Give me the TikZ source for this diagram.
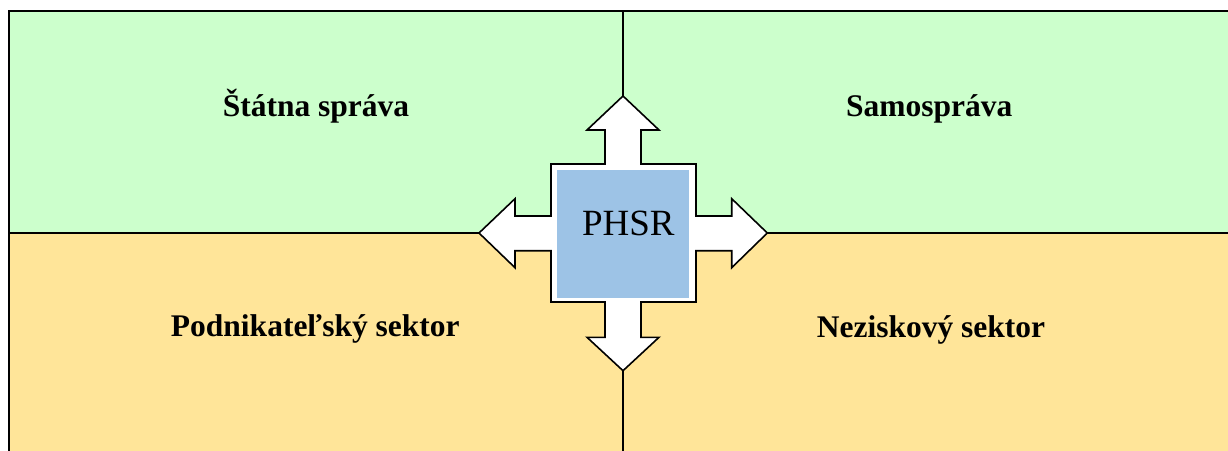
\documentclass[tikz,border=0pt]{standalone}
\usepackage{fontspec}
\setmainfont{Liberation Serif}
\definecolor{qgreen}{HTML}{CCFFCC}
\definecolor{qorange}{HTML}{FFE599}
\definecolor{qblue}{HTML}{9DC3E6}
\tikzset{
  quadlabel/.style={font=\fontsize{31.5}{36}\selectfont\bfseries, anchor=base, inner sep=0pt},
  frameline/.style={line width=2pt},
  crossline/.style={line width=1.6pt, fill=white, line join=miter},
}
\begin{document}
\begin{tikzpicture}[x=1pt,y=-1pt]
\useasboundingbox (0,0) rectangle (1228,450);
% quadrants
\fill[qgreen] (9,11) rectangle (1240,233);
\fill[qorange] (9,233) rectangle (1240,460);
\draw[frameline] (9,460) -- (9,11) -- (1240,11);
\draw[frameline] (623,11) -- (623,460);
\draw[frameline] (9,233) -- (1240,233);
% cross arrow
\draw[crossline] (623,96) -- (659,130) -- (641,130) -- (641,164) -- (696,164)
  -- (696,216) -- (731.7,216) -- (731.7,198.7) -- (767.3,233) -- (731.7,267.7)
  -- (731.7,250.7) -- (696,250.7) -- (696,302) -- (641,302) -- (641,337.3)
  -- (659,337.3) -- (623,370.7) -- (587,337.3) -- (605,337.3) -- (605,302)
  -- (551,302) -- (551,250.7) -- (515,250.7) -- (515,267.7) -- (479,233)
  -- (515,198.7) -- (515,216) -- (551,216) -- (551,164) -- (605,164)
  -- (605,130) -- (587,130) -- cycle;
\fill[qblue] (556.7,170) rectangle (689.3,297.7);
\node[anchor=base, inner sep=0pt, font=\fontsize{37}{42}\selectfont] (phsr) at (628.3,235) {PHSR};
% labels
\node[quadlabel] (statna) at (316,116.7) {Štátna správa};
\node[quadlabel] (samo) at (929.3,116.7) {Samospráva};
\node[quadlabel] (podnik) at (315.3,336.7) {Podnikateľský sektor};
\node[quadlabel] (nezisk) at (931,337.3) {Neziskový sektor};
\end{tikzpicture}
\end{document}
